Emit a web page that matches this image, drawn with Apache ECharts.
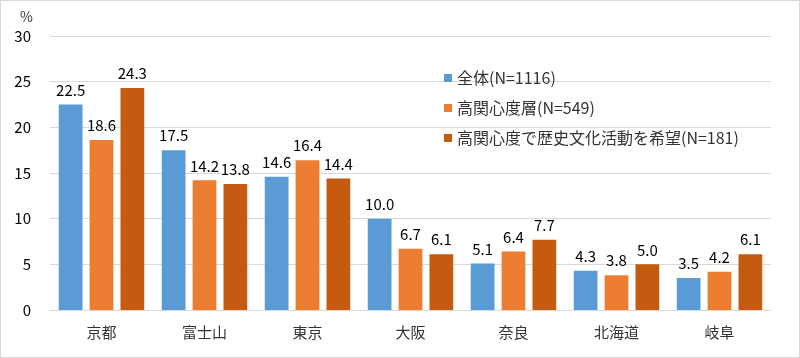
<!DOCTYPE html>
<html><head><meta charset="utf-8">
<script src="https://cdn.jsdelivr.net/npm/echarts@6/dist/echarts.min.js"></script>
<style>html,body{margin:0;padding:0;background:#fff}#c{width:798px;height:356px;border:1px solid #d9d9d9}</style>
</head><body><div id="c"></div>
<script>
const categories = ['京都','富士山','東京','大阪','奈良','北海道','岐阜'];
const seriesNames = ['全体(N=1116)','高関心度層(N=549)','高関心度で歴史文化活動を希望(N=181)'];
const allValues = [22.5,17.5,14.6,10.0,5.1,4.3,3.5];
const highValues = [18.6,14.2,16.4,6.7,6.4,3.8,4.2];
const histValues = [24.3,13.8,14.4,6.1,7.7,5.0,6.1];
const colors = ['#5B9BD5','#ED7D31','#C55A11'];
const font = '"Noto Sans CJK JP", "Noto Sans", sans-serif';
const chart = echarts.init(document.getElementById('c'), null, {renderer:'canvas'});
const mk = (name, data, color) => ({
  name, type:'bar', data, barGap:'30%', barCategoryGap:'17%',
  itemStyle:{color},
  label:{show:true, position:'top', distance:7, formatter:p=>p.value.toFixed(1), color:'#000', fontSize:15, fontFamily:font}
});
chart.setOption({
  animation:false,
  textStyle:{fontFamily:font},
  grid:{left:49, right:28, top:35, bottom:47},
  legend:{orient:'vertical', left:438, top:64, itemGap:14, itemWidth:8, itemHeight:8, icon:'rect',
    textStyle:{fontSize:16, color:'#333', fontFamily:font}, data:seriesNames},
  xAxis:{type:'category', data:categories,
    axisLine:{lineStyle:{color:'#d9d9d9'}}, axisTick:{show:false},
    axisLabel:{fontSize:15, color:'#333', margin:15, fontFamily:font}},
  yAxis:{type:'value', min:0, max:30, interval:5, name:'%', nameGap:12,
    nameTextStyle:{fontSize:14, color:'#333', align:'right', padding:[0,17,0,0]},
    axisLabel:{fontSize:15, color:'#000', margin:19},
    splitLine:{lineStyle:{color:'#d9d9d9'}}},
  series:[mk(seriesNames[0],allValues,colors[0]), mk(seriesNames[1],highValues,colors[1]), mk(seriesNames[2],histValues,colors[2])]
});
</script></body></html>
